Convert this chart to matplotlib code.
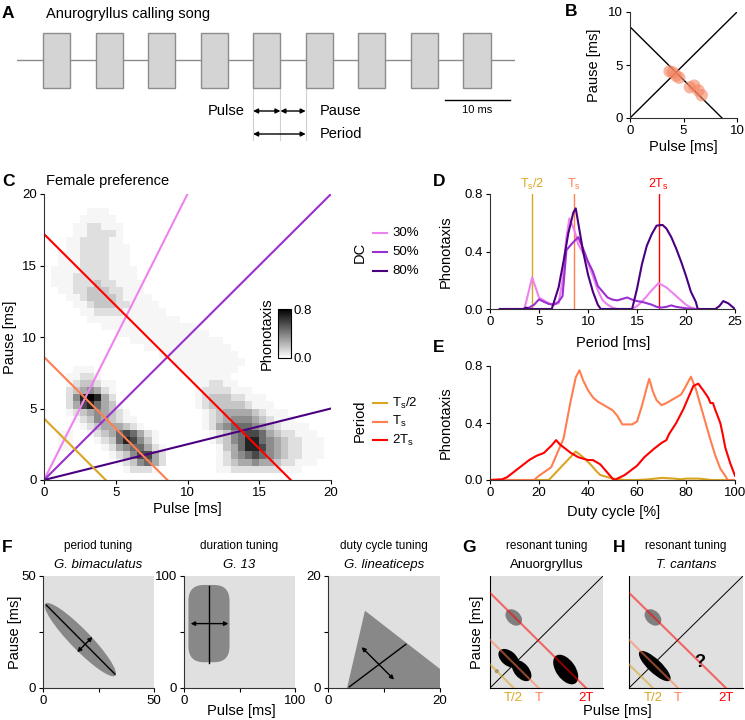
import numpy as np
import matplotlib
matplotlib.use("Agg")
import matplotlib.pyplot as plt
from matplotlib.patches import Rectangle, Ellipse, Polygon, FancyBboxPatch
from matplotlib.lines import Line2D

plt.rcParams['font.family'] = ['Liberation Sans', 'DejaVu Sans']
plt.rcParams['mathtext.fontset'] = 'custom'
plt.rcParams['mathtext.rm'] = 'Liberation Sans'
plt.rcParams['mathtext.it'] = 'Liberation Sans:italic'
plt.rcParams['font.size'] = 9.5
plt.rcParams['axes.linewidth'] = 0.8
plt.rcParams['xtick.major.size'] = 3
plt.rcParams['ytick.major.size'] = 3
plt.rcParams['xtick.major.width'] = 0.8
plt.rcParams['ytick.major.width'] = 0.8
plt.rcParams['xtick.major.pad'] = 2
plt.rcParams['ytick.major.pad'] = 2

# ---- data ----
# A: calling song
n_pulses = 9
pulse_dur = 4.2
song_period = 8.08
song_start = 4.0
song_len = 76.6

# B: measured songs
Ts = 8.6
b_pulse = [3.7, 4.0, 4.3, 4.6, 5.6, 6.0, 6.4, 6.7]
b_pause = [4.4, 4.3, 4.0, 3.8, 2.9, 3.05, 2.6, 2.15]

# C: female preference field, 0.5 ms cells, top row = pause 19.5-20 ms
# each digit is a response level, see heat_levels
heat_rows = [
    "0000000000000000000000000000000000000000",
    "0000000000000000000000000000000000000000",
    "0000001110000000000000000000000000000000",
    "0000011111000000000000000000000000000000",
    "0000112211100000000000000000000000000000",
    "0000112222100000000000000000000000000000",
    "0001122221100000000000000000000000000000",
    "0001122221110000000000000000000000000000",
    "0011122221110000000000000000000000000000",
    "0011122221110000000000000000000000000000",
    "0111122221111000000000000000000000000000",
    "0111222221111000000000000000000000000000",
    "0111222322111100000000000000000000000000",
    "0011223332211100000000000000000000000000",
    "0001123333211110000000000000000000000000",
    "0000112333221111000000000000000000000000",
    "0000011222211111100000000000000000000000",
    "0000001111111111111000000000000000000000",
    "0000000011111111111110000000000000000000",
    "0000000000111111111111100000000000000000",
    "0000000000001111111111111000000000000000",
    "0000000000000011111111111100000000000000",
    "0000000000000000111111111110000000000000",
    "0000000000000000001111111111000000000000",
    "0000111000000000000111111110000000000000",
    "0001122100000000000011111100000000000000",
    "0001233211000000000001122110000000000000",
    "0002345421000000000001222211100000000000",
    "0002589842000000000001233322111000000000",
    "0002478643100000000001233333211100000000",
    "0001234543210000000000123444432111000000",
    "0000123543211000000000123455543211100000",
    "0000012344432100000000124566654321111000",
    "0011001234676421000000012356776432211100",
    "0011000123687531000000012356886543221110",
    "0011000012456642100000001346887543221110",
    "0000000001235774200000001245676543221110",
    "0000000000123564200000001234454432211100",
    "0000000000012221000000001122222221110000",
    "0000000000000000000000000000000000000000",
]
heat_levels = [0, 0.03, 0.1, 0.18, 0.27, 0.36, 0.46, 0.57, 0.69, 0.8]
dc_values = [1 / 3, 0.5, 0.8]
dc_labels = ['30%', '50%', '80%']
dc_colors = ['#ee82ee', '#9b30d0', '#4b0082']
period_values = [Ts / 2, Ts, 2 * Ts]
period_labels = [r'T$_\mathrm{s}$/2', r'T$_\mathrm{s}$', r'2T$_\mathrm{s}$']
period_colors = ['#daa520', '#ff7f50', '#ff0000']

# D: phonotaxis vs period for the three duty cycles
d30_x = [1.0, 3.5, 3.8, 4.3, 4.7, 5.0, 5.5, 6.0, 6.5, 7.0, 7.4, 7.8, 8.1, 8.6, 9.0, 9.5, 10.0, 10.5,
         11.0, 11.5, 12.0, 12.5, 13.0, 14.5, 15.0, 15.5, 16.0, 16.5, 17.2, 18.0, 18.5, 19.0, 19.5,
         20.0, 20.5, 21.0]
d30_y = [0, 0, 0.08, 0.22, 0.14, 0.08, 0.06, 0.04, 0.03, 0.04, 0.2, 0.5, 0.63, 0.55, 0.45, 0.39,
         0.32, 0.23, 0.13, 0.06, 0.03, 0.01, 0, 0, 0.02, 0.05, 0.09, 0.13, 0.18, 0.15, 0.12, 0.09,
         0.06, 0.03, 0.01, 0]
d50_x = [3.5, 4.0, 4.5, 5.0, 5.5, 6.0, 6.5, 7.0, 7.4, 7.8, 8.3, 9.0, 9.5, 10.0, 10.5, 11.0, 11.5,
         12.0, 12.5, 13.0, 13.5, 14.0, 14.5, 15.0, 15.5, 16.0, 16.5, 17.0, 17.5, 18.0, 18.5, 19.0,
         19.5, 20.0, 21.0]
d50_y = [0, 0.01, 0.03, 0.067, 0.05, 0.035, 0.03, 0.05, 0.09, 0.41, 0.45, 0.50, 0.42, 0.33, 0.26,
         0.16, 0.12, 0.08, 0.065, 0.06, 0.07, 0.08, 0.065, 0.055, 0.05, 0.04, 0.03, 0.015, 0.01,
         0.015, 0.025, 0.015, 0.01, 0.005, 0]
d80_x = [1.0, 3.4, 3.7, 4.0, 6.3, 7.0, 7.5, 8.0, 8.5, 8.75, 9.0, 9.5, 10.0, 10.5, 11.0, 11.3, 14.5,
         15.0, 15.5, 16.0, 16.5, 17.0, 17.6, 18.0, 18.5, 19.0, 19.5, 20.0, 20.5, 21.0, 21.2, 23.0,
         23.4, 23.8, 24.3, 25.0]
d80_y = [0, 0, 0.01, 0, 0, 0.15, 0.33, 0.53, 0.67, 0.70, 0.60, 0.40, 0.24, 0.12, 0.03, 0, 0, 0.14,
         0.31, 0.44, 0.52, 0.58, 0.585, 0.56, 0.50, 0.42, 0.33, 0.23, 0.12, 0.05, 0, 0, 0.02,
         0.055, 0.04, 0]

# E: phonotaxis vs duty cycle for the three periods
e_half_x = [0, 24, 35, 38, 41, 43, 45, 48, 50, 53, 55, 60, 65, 70, 75, 78, 80, 85, 88, 90, 100]
e_half_y = [0, 0, 0.20, 0.16, 0.11, 0.07, 0.035, 0.02, 0.01, 0.005, 0, 0, 0.005, 0.015, 0.01,
            0.005, 0.01, 0.01, 0.005, 0, 0]
e_ts_x = [0, 18, 20, 25, 30, 33, 35, 36.5, 38, 40, 42, 44, 48, 50, 52, 54, 58, 60, 62, 64, 65,
          66.5, 68, 70, 72, 75, 78, 80, 82, 84, 86, 88, 90, 92, 94, 96, 97, 100]
e_ts_y = [0, 0, 0.03, 0.09, 0.29, 0.56, 0.72, 0.77, 0.70, 0.63, 0.58, 0.55, 0.51, 0.49, 0.45,
          0.39, 0.39, 0.41, 0.52, 0.65, 0.71, 0.62, 0.56, 0.525, 0.54, 0.57, 0.60, 0.66, 0.725,
          0.64, 0.52, 0.40, 0.28, 0.17, 0.08, 0.03, 0, 0]
e_2ts_x = [0, 5, 7, 10, 13, 16, 19, 22, 25, 27, 28.5, 30, 33, 36, 40, 42, 45, 48, 50, 51, 52, 55,
           60, 63, 67, 70, 72, 73, 76, 79, 81, 83, 85, 87, 89, 90, 91, 92, 94, 95, 96, 98, 100]
e_2ts_y = [0, 0.005, 0.02, 0.06, 0.10, 0.14, 0.17, 0.19, 0.24, 0.28, 0.25, 0.23, 0.19, 0.16,
           0.14, 0.14, 0.11, 0.05, 0.01, 0, 0.01, 0.035, 0.10, 0.16, 0.22, 0.26, 0.28, 0.32, 0.40,
           0.50, 0.58, 0.66, 0.676, 0.63, 0.58, 0.54, 0.54, 0.49, 0.40, 0.32, 0.23, 0.12, 0.03]

# F: schematic preference fields of other species
f1_center, f1_len, f1_wid, f1_angle = (16.8, 21.6), 45.0, 9.0, -45.6
f1_axis = ([1.5, 32.4], [37.0, 6.2])
f1_arrow = ((15.4, 16.0), (22.3, 22.8))
f2_box = (4.0, 23.0, 37.0, 69.0)
f2_axis = ([22.5, 22.5], [22.0, 91.0])
f2_arrow = ((6.0, 57.5), (40.0, 57.5))
f3_poly = [(3.4, 0), (6.6, 13.8), (20, 3.4), (20, 0)]
f3_axis = ([3.8, 13.9], [0.2, 7.8])
f3_arrow = ((6.0, 7.3), (11.8, 1.5))

# G/H: resonant tuning schematics (arbitrary units 0-10)
gh_periods = [2.1, 4.3, 8.5]
gh_labels = ['T/2', 'T', '2T']
g_blobs = [((2.1, 6.3), 1.7, 1.2, -45, '#7f7f7f'), ((0.6, 1.5), 0.35, 0.35, 0, '#8c8c8c'),
           ((1.65, 2.65), 2.1, 1.3, -40, 'k'), ((2.8, 1.55), 2.2, 1.3, -50, 'k'),
           ((6.7, 1.65), 3.0, 1.7, -55, 'k')]
h_blobs = [((2.1, 6.3), 1.7, 1.2, -45, '#7f7f7f'), ((2.26, 1.96), 3.7, 1.2, -44, 'k')]

# ---- layout helpers (pixel boxes on a 745x720 canvas) ----
W, H = 745, 720
fig = plt.figure(figsize=(W / 100, H / 100), dpi=100)


def add_ax(l, t, r, b):
    return fig.add_axes([l / W, 1 - b / H, (r - l) / W, (b - t) / H])


def ftext(x, y, s, **kw):
    kw.setdefault('ha', 'center')
    kw.setdefault('va', 'center')
    fig.text(x / W, 1 - y / H, s, **kw)


def style(ax):
    for sp in ['top', 'right']:
        ax.spines[sp].set_visible(False)
    for sp in ['left', 'bottom']:
        ax.spines[sp].set_color('#333333')


def panel(x, y, s):
    ftext(x, y, s, ha='left', fontsize=12.5, fontweight='bold')


# ---- A ----
axA = add_ax(17, 20, 515, 145)
axA.set_xlim(0, song_len)
axA.set_ylim(145, 20)
axA.axis('off')
axA.plot([0, song_len], [60, 60], color='#8c8c8c', lw=1, zorder=1)
starts = song_start + song_period * np.arange(n_pulses)
for s in starts:
    axA.add_patch(Rectangle((s, 33), pulse_dur, 55, facecolor='#d4d4d4',
                            edgecolor='#8c8c8c', lw=1, zorder=2))
t5 = starts[4]
for x in [t5, t5 + pulse_dur, t5 + song_period]:
    axA.plot([x, x], [88, 140], color='#d0d0d0', lw=0.8, zorder=1)
arr = dict(arrowstyle='<|-|>', color='k', lw=1, mutation_scale=7, shrinkA=0, shrinkB=0)
axA.annotate('', xy=(t5 + pulse_dur, 111), xytext=(t5, 111), arrowprops=arr)
axA.annotate('', xy=(t5 + song_period, 111), xytext=(t5 + pulse_dur, 111), arrowprops=arr)
axA.annotate('', xy=(t5 + song_period, 134), xytext=(t5, 134), arrowprops=arr)
axA.text(t5 - 1.3, 111, 'Pulse', ha='right', va='center', fontsize=10.5)
axA.text(t5 + song_period + 2.2, 111, 'Pause', ha='left', va='center', fontsize=10.5)
axA.text(t5 + song_period + 2.2, 134, 'Period', ha='left', va='center', fontsize=10.5)
axA.plot([65.8, 75.8], [100, 100], color='k', lw=1)
axA.text(70.8, 110, '10 ms', ha='center', va='center', fontsize=8)
panel(2, 14, 'A')
ftext(46, 14, 'Anurogryllus calling song', ha='left', fontsize=10.5)

# ---- B ----
axB = add_ax(630, 12, 737, 118)
style(axB)
axB.set_xlim(0, 10)
axB.set_ylim(0, 10)
axB.set_xticks([0, 5, 10])
axB.set_yticks([0, 5, 10])
axB.plot([0, 10], [0, 10], color='k', lw=1)
axB.plot([0, Ts], [Ts, 0], color='k', lw=1)
axB.scatter(b_pulse, b_pause, s=80, color='#f4845f', alpha=0.6, edgecolors='none', zorder=3)
panel(565, 12, 'B')
ftext(683, 147, 'Pulse [ms]', fontsize=10.5)
ftext(594, 65, 'Pause [ms]', rotation=90, fontsize=10.5)

# ---- C ----
axC = add_ax(44, 194, 331, 480)
style(axC)
heat = np.array([[heat_levels[int(c)] for c in r.ljust(40, '0')[:40]] for r in heat_rows[::-1]])
edges = np.arange(0, 20.01, 0.5)
mesh = axC.pcolormesh(edges, edges, heat, cmap='gray_r', vmin=0, vmax=0.8, zorder=0)
for dc, col in zip(dc_values, dc_colors):
    xs = np.array([0, 20])
    axC.plot(xs, xs * (1 - dc) / dc, color=col, lw=1.5)
for T, col in zip(period_values, period_colors):
    axC.plot([0, T], [T, 0], color=col, lw=1.5)
axC.set_xlim(0, 20)
axC.set_ylim(0, 20)
axC.set_xticks([0, 5, 10, 15, 20])
axC.set_yticks([0, 5, 10, 15, 20])
panel(2, 181, 'C')
ftext(46, 181, 'Female preference', ha='left', fontsize=10.5)
ftext(187, 509, 'Pulse [ms]', fontsize=10.5)
ftext(10, 337, 'Pause [ms]', rotation=90, fontsize=10.5)

cax = add_ax(278, 309, 291, 358)
cb = fig.colorbar(mesh, cax=cax, ticks=[0, 0.8])
cb.ax.set_yticklabels(['0.0', '0.8'])
cb.ax.tick_params(length=0, labelsize=9.5, pad=2)
cb.outline.set_linewidth(0.8)
ftext(267, 334, 'Phonotaxis', rotation=90, fontsize=10.5)

# legends for C
for k, (lab, col) in enumerate(zip(dc_labels, dc_colors)):
    y = 233 + 19 * k
    fig.add_artist(Line2D([373 / W, 387 / W], [1 - y / H, 1 - y / H], color=col, lw=1.5))
    ftext(392, y, lab, ha='left', fontsize=9.5)
ftext(360, 252, 'DC', rotation=90, fontsize=10.5)
for k, (lab, col) in enumerate(zip(period_labels, period_colors)):
    y = 403 + 18.5 * k
    fig.add_artist(Line2D([373 / W, 387 / W], [1 - y / H, 1 - y / H], color=col, lw=1.5))
    ftext(392, y, lab, ha='left', fontsize=9.5)
ftext(360, 421, 'Period', rotation=90, fontsize=10.5)

# ---- D ----
axD = add_ax(490, 194, 735, 309)
style(axD)
for T, col, lab in zip(period_values, period_colors, period_labels):
    axD.plot([T, T], [0, 0.8], color=col, lw=1, zorder=1)
    axD.text(T, 0.815, lab, color=col, ha='center', va='bottom', fontsize=9, clip_on=False)
axD.plot(d30_x, d30_y, color=dc_colors[0], lw=1.5)
axD.plot(d50_x, d50_y, color=dc_colors[1], lw=1.5)
axD.plot(d80_x, d80_y, color=dc_colors[2], lw=1.5)
axD.set_xlim(0, 25)
axD.set_ylim(0, 0.8)
axD.set_xticks([0, 5, 10, 15, 20, 25])
axD.set_yticks([0, 0.4, 0.8])
axD.set_yticklabels(['0.0', '0.4', '0.8'])
panel(433, 181, 'D')
ftext(613, 343, 'Period [ms]', fontsize=10.5)
ftext(446, 252, 'Phonotaxis', rotation=90, fontsize=10.5)

# ---- E ----
axE = add_ax(490, 366, 735, 480)
style(axE)
axE.plot(e_half_x, e_half_y, color=period_colors[0], lw=1.5)
axE.plot(e_ts_x, e_ts_y, color=period_colors[1], lw=1.5)
axE.plot(e_2ts_x, e_2ts_y, color=period_colors[2], lw=1.5)
axE.set_xlim(0, 100)
axE.set_ylim(0, 0.8)
axE.set_xticks([0, 20, 40, 60, 80, 100])
axE.set_yticks([0, 0.4, 0.8])
axE.set_yticklabels(['0.0', '0.4', '0.8'])
panel(433, 347, 'E')
ftext(614, 512, 'Duty cycle [%]', fontsize=10.5)
ftext(446, 423, 'Phonotaxis', rotation=90, fontsize=10.5)


# ---- F ----
def tuning_ax(box, lim):
    ax = add_ax(*box)
    style(ax)
    ax.set_facecolor('#e0e0e0')
    ax.set_xlim(0, lim)
    ax.set_ylim(0, lim)
    ax.set_xticks([0, lim / 2, lim])
    ax.set_yticks([0, lim / 2, lim])
    ax.set_xticklabels(['0', '', str(lim)])
    ax.set_yticklabels(['0', '', str(lim)])
    return ax


farr = dict(arrowstyle='<|-|>', color='k', lw=1, mutation_scale=6, shrinkA=0, shrinkB=0)

axF1 = tuning_ax((43, 576, 154, 688), 50)
axF1.add_patch(Ellipse(f1_center, f1_len, f1_wid, angle=f1_angle, color='#888888', lw=0))
axF1.plot(*f1_axis, color='k', lw=1)
axF1.annotate('', xy=f1_arrow[1], xytext=f1_arrow[0], arrowprops=farr)

axF2 = tuning_ax((184, 576, 295, 688), 100)
bx, by, bw, bh = f2_box
axF2.add_patch(FancyBboxPatch((bx, by), bw, bh, boxstyle='round,pad=0,rounding_size=14',
                              color='#888888', lw=0))
axF2.plot(*f2_axis, color='k', lw=1)
axF2.annotate('', xy=f2_arrow[1], xytext=f2_arrow[0], arrowprops=farr)

axF3 = tuning_ax((328, 576, 440, 688), 20)
axF3.add_patch(Polygon(f3_poly, closed=True, color='#888888', lw=0))
axF3.plot(*f3_axis, color='k', lw=1)
axF3.annotate('', xy=f3_arrow[1], xytext=f3_arrow[0], arrowprops=farr)

for ax, t1, t2 in [(axF1, 'period tuning', 'G. bimaculatus'),
                   (axF2, 'duration tuning', 'G. 13'),
                   (axF3, 'duty cycle tuning', 'G. lineaticeps')]:
    ax.text(0.5, 1.27, t1, transform=ax.transAxes, ha='center', va='center', fontsize=8.5)
    ax.text(0.5, 1.1, t2, transform=ax.transAxes, ha='center', va='center', fontsize=9.5,
            style='italic')
panel(2, 547, 'F')
ftext(15, 632, 'Pause [ms]', rotation=90, fontsize=10.5)
ftext(241, 711, 'Pulse [ms]', fontsize=10.5)


# ---- G / H ----
def resonant_ax(box, blobs, name, italic):
    ax = add_ax(*box)
    ax.set_facecolor('#e0e0e0')
    for sp in ['top', 'right']:
        ax.spines[sp].set_visible(False)
    for sp in ['left', 'bottom']:
        ax.spines[sp].set_color('k')
    ax.set_xticks([])
    ax.set_yticks([])
    ax.set_xlim(0, 10)
    ax.set_ylim(0, 10)
    for c, w, h, a, col in blobs:
        ax.add_patch(Ellipse(c, w, h, angle=a, color=col, lw=0, zorder=1))
    ax.plot([0, 10], [0, 10], color='k', lw=0.7, zorder=2)
    for T, col, lab in zip(gh_periods, period_colors, gh_labels):
        ax.plot([0, T], [T, 0], color=col, lw=1.5, alpha=0.55, zorder=3)
        ax.text(T, -0.35, lab, color=col, ha='center', va='top', fontsize=9.5, clip_on=False)
    ax.text(0.5, 1.27, 'resonant tuning', transform=ax.transAxes, ha='center', va='center',
            fontsize=8.5)
    ax.text(0.5, 1.1, name, transform=ax.transAxes, ha='center', va='center', fontsize=9.5,
            style='italic' if italic else 'normal')
    return ax


axG = resonant_ax((490, 576, 603, 688), g_blobs, 'Anuorgryllus', False)
axH = resonant_ax((629, 576, 743, 688), h_blobs, 'T. cantans', True)
axH.text(6.2, 2.3, '?', ha='center', va='center', fontsize=13, fontweight='bold')
panel(462, 547, 'G')
panel(613, 547, 'H')
ftext(477, 632, 'Pause [ms]', rotation=90, fontsize=10.5)
ftext(617, 711, 'Pulse [ms]', fontsize=10.5)

fig.savefig('out.png', dpi=100)
